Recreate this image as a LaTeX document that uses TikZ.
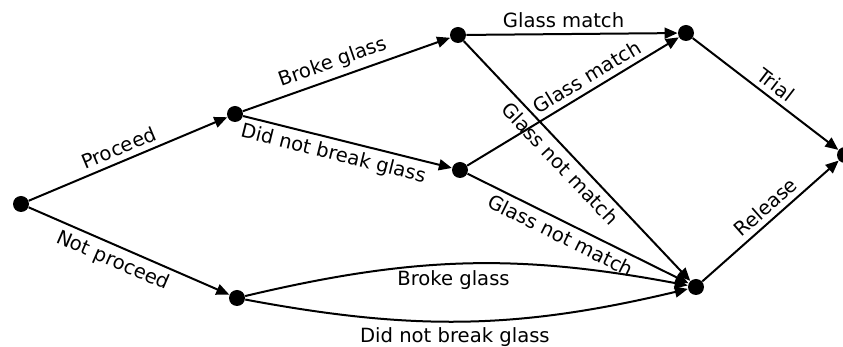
\documentclass[tikz,border=0pt]{standalone}
\usepackage{fontspec}
\setmainfont{DejaVu Sans}
\usetikzlibrary{arrows.meta}
\begin{document}
\begin{tikzpicture}[x=0.5pt,y=-0.5pt,
  dot/.style={circle,fill=black,inner sep=0pt,minimum size=8pt},
  edge/.style={line width=1pt,-{Triangle[length=6.5pt,width=5.5pt]}},
  lbl/.style={font=\fontsize{9.8pt}{11pt}\selectfont,inner sep=2.6pt}]
\useasboundingbox (0,0) rectangle (843,347);
\node[dot] (A) at (21,204) {};
\node[dot] (B) at (235,114) {};
\node[dot] (C) at (237,298) {};
\node[dot] (D) at (458,35) {};
\node[dot] (E) at (460,170) {};
\node[dot] (F) at (686,33) {};
\node[dot] (G) at (696,287) {};
\node[dot] (H) at (845,155) {};
\draw[edge] (A) -- node[lbl,above,sloped,pos=0.48] {Proceed} (B);
\draw[edge] (A) -- node[lbl,below,sloped,pos=0.45] {Not proceed} (C);
\draw[edge] (B) -- node[lbl,above,sloped,pos=0.46] {Broke glass} (D);
\draw[edge] (B) -- node[lbl,below,sloped,pos=0.45] {Did not break glass} (E);
\draw[edge] (D) -- node[lbl,above,pos=0.46] {Glass match} (F);
\draw[edge] (E) -- node[lbl,above,sloped,pos=0.6] {Glass match} (F);
\draw[edge] (D) -- node[lbl,below,sloped,pos=0.47] {Glass not match} (G);
\draw[edge] (E) -- node[lbl,below,sloped,pos=0.45] {Glass not match} (G);
\draw[edge] (C) to[bend left=12] node[lbl,below,pos=0.47] {Broke glass} (G);
\draw[edge] (C) to[bend right=12] node[lbl,below,pos=0.47] {Did not break glass} (G);
\draw[edge] (F) -- node[lbl,above,sloped,pos=0.515] {Trial} (H);
\draw[edge] (G) -- node[lbl,above,sloped,pos=0.53] {Release} (H);
\end{tikzpicture}
\end{document}
